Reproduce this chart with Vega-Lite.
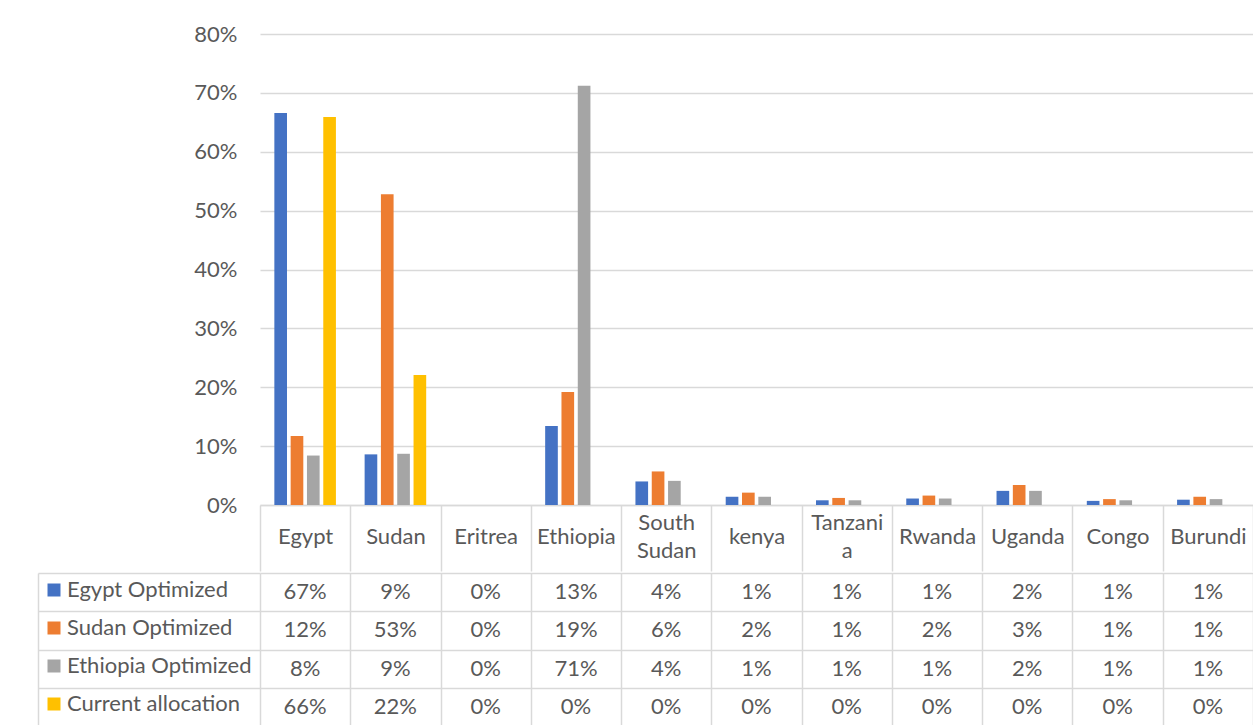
{
  "$schema": "https://vega.github.io/schema/vega-lite/v6.json",
  "padding": {"left": 37, "top": 23, "right": 0, "bottom": 0},
  "background": "white",
  "spacing": 0,
  "config": {"view": {"stroke": null}, "font": "Lato", "concat": {"spacing": 0}},
  "data": {"values": [
    {"country": "Egypt", "series": "Egypt Optimized", "value": 0.666},
    {"country": "Egypt", "series": "Sudan Optimized", "value": 0.117},
    {"country": "Egypt", "series": "Ethiopia Optimized", "value": 0.084},
    {"country": "Egypt", "series": "Current allocation", "value": 0.659},
    {"country": "Sudan", "series": "Egypt Optimized", "value": 0.086},
    {"country": "Sudan", "series": "Sudan Optimized", "value": 0.528},
    {"country": "Sudan", "series": "Ethiopia Optimized", "value": 0.087},
    {"country": "Sudan", "series": "Current allocation", "value": 0.221},
    {"country": "Eritrea", "series": "Egypt Optimized", "value": 0},
    {"country": "Eritrea", "series": "Sudan Optimized", "value": 0},
    {"country": "Eritrea", "series": "Ethiopia Optimized", "value": 0},
    {"country": "Eritrea", "series": "Current allocation", "value": 0},
    {"country": "Ethiopia", "series": "Egypt Optimized", "value": 0.134},
    {"country": "Ethiopia", "series": "Sudan Optimized", "value": 0.192},
    {"country": "Ethiopia", "series": "Ethiopia Optimized", "value": 0.712},
    {"country": "Ethiopia", "series": "Current allocation", "value": 0},
    {"country": "South Sudan", "series": "Egypt Optimized", "value": 0.040},
    {"country": "South Sudan", "series": "Sudan Optimized", "value": 0.057},
    {"country": "South Sudan", "series": "Ethiopia Optimized", "value": 0.041},
    {"country": "South Sudan", "series": "Current allocation", "value": 0},
    {"country": "kenya", "series": "Egypt Optimized", "value": 0.014},
    {"country": "kenya", "series": "Sudan Optimized", "value": 0.021},
    {"country": "kenya", "series": "Ethiopia Optimized", "value": 0.014},
    {"country": "kenya", "series": "Current allocation", "value": 0},
    {"country": "Tanzania", "series": "Egypt Optimized", "value": 0.008},
    {"country": "Tanzania", "series": "Sudan Optimized", "value": 0.012},
    {"country": "Tanzania", "series": "Ethiopia Optimized", "value": 0.008},
    {"country": "Tanzania", "series": "Current allocation", "value": 0},
    {"country": "Rwanda", "series": "Egypt Optimized", "value": 0.011},
    {"country": "Rwanda", "series": "Sudan Optimized", "value": 0.016},
    {"country": "Rwanda", "series": "Ethiopia Optimized", "value": 0.011},
    {"country": "Rwanda", "series": "Current allocation", "value": 0},
    {"country": "Uganda", "series": "Egypt Optimized", "value": 0.024},
    {"country": "Uganda", "series": "Sudan Optimized", "value": 0.034},
    {"country": "Uganda", "series": "Ethiopia Optimized", "value": 0.024},
    {"country": "Uganda", "series": "Current allocation", "value": 0},
    {"country": "Congo", "series": "Egypt Optimized", "value": 0.007},
    {"country": "Congo", "series": "Sudan Optimized", "value": 0.010},
    {"country": "Congo", "series": "Ethiopia Optimized", "value": 0.008},
    {"country": "Congo", "series": "Current allocation", "value": 0},
    {"country": "Burundi", "series": "Egypt Optimized", "value": 0.009},
    {"country": "Burundi", "series": "Sudan Optimized", "value": 0.014},
    {"country": "Burundi", "series": "Ethiopia Optimized", "value": 0.010},
    {"country": "Burundi", "series": "Current allocation", "value": 0}
  ]},
  "vconcat": [
    {
      "width": 993,
      "height": 471,
      "mark": {"type": "bar"},
      "encoding": {
        "x": {
          "field": "country", "type": "nominal",
          "sort": ["Egypt", "Sudan", "Eritrea", "Ethiopia", "South Sudan", "kenya", "Tanzania", "Rwanda", "Uganda", "Congo", "Burundi"],
          "scale": {"paddingInner": 0, "paddingOuter": 0},
          "axis": {
            "title": null, "labelAngle": 0, "tickBand": "extent", "tickSize": 66,
            "tickColor": "#d9d9d9", "tickWidth": 1.5, "domainColor": "#d9d9d9", "domainWidth": 1.5,
            "labelFontSize": 22, "labelColor": "#595959", "labelBaseline": "middle",
            "labelPadding": {"condition": {"test": "datum.value == 'South Sudan' || datum.value == 'Tanzania'", "value": -49}, "value": -35},
            "labelLineHeight": 28, "labelOverlap": false, "labelLimit": 0,
            "labelExpr": "datum.label == 'South Sudan' ? ['South', 'Sudan'] : datum.label == 'Tanzania' ? ['Tanzani', 'a'] : datum.label"
          }
        },
        "xOffset": {
          "field": "series", "type": "nominal",
          "scale": {"domain": ["Egypt Optimized", "Sudan Optimized", "Ethiopia Optimized", "Current allocation"], "paddingInner": 0.224, "paddingOuter": 0.88}
        },
        "y": {
          "field": "value", "type": "quantitative",
          "scale": {"domain": [0, 0.8], "nice": false},
          "axis": {
            "title": null, "values": [0, 0.1, 0.2, 0.3, 0.4, 0.5, 0.6, 0.7, 0.8], "format": ".0%",
            "domain": false, "ticks": false, "gridColor": "#d9d9d9", "gridWidth": 1.5,
            "labelFontSize": 22, "labelColor": "#595959", "labelPadding": 23
          }
        },
        "color": {
          "field": "series", "type": "nominal",
          "scale": {"domain": ["Egypt Optimized", "Sudan Optimized", "Ethiopia Optimized", "Current allocation"], "range": ["#4472C4", "#ED7D31", "#A5A5A5", "#FFC000"]},
          "legend": {
            "orient": "none", "legendX": -217, "legendY": 545, "title": null,
            "symbolType": "square", "symbolSize": 169, "symbolStrokeWidth": 0, "symbolOpacity": 1,
            "labelFontSize": 22, "labelColor": "#595959", "labelOffset": 2, "rowPadding": 16,
            "padding": 0, "labelLimit": 400
          }
        }
      }
    },
    {
      "width": 993,
      "height": 153,
      "layer": [
        {
          "mark": {"type": "text", "fontSize": 22, "color": "#595959", "font": "Lato"},
          "encoding": {
            "x": {
              "field": "country", "type": "nominal",
              "sort": ["Egypt", "Sudan", "Eritrea", "Ethiopia", "South Sudan", "kenya", "Tanzania", "Rwanda", "Uganda", "Congo", "Burundi"],
              "scale": {"paddingInner": 0, "paddingOuter": 0},
              "axis": {"title": null, "labels": false, "ticks": false, "domain": false, "grid": true, "tickBand": "extent", "gridColor": "#d9d9d9", "gridWidth": 1.5}
            },
            "y": {
              "field": "series", "type": "nominal",
              "sort": ["Egypt Optimized", "Sudan Optimized", "Ethiopia Optimized", "Current allocation"],
              "scale": {"paddingInner": 0, "paddingOuter": 0},
              "axis": {"title": null, "labels": false, "ticks": true, "tickSize": 222, "tickBand": "extent", "tickColor": "#d9d9d9", "tickWidth": 1.5, "domain": false, "grid": true, "gridColor": "#d9d9d9", "gridWidth": 1.5}
            },
            "text": {"field": "value", "type": "quantitative", "format": ".0%"}
          }
        },
        {
          "mark": {"type": "text", "opacity": 0},
          "encoding": {
            "y": {
              "field": "series", "type": "nominal",
              "sort": ["Egypt Optimized", "Sudan Optimized", "Ethiopia Optimized", "Current allocation"],
              "axis": {"orient": "left", "offset": 222, "title": null, "labels": false, "ticks": false, "grid": false, "domain": true, "domainColor": "#d9d9d9", "domainWidth": 1.5}
            },
            "text": {"value": ""}
          }
        }
      ],
      "resolve": {"axis": {"y": "independent"}}
    }
  ]
}
